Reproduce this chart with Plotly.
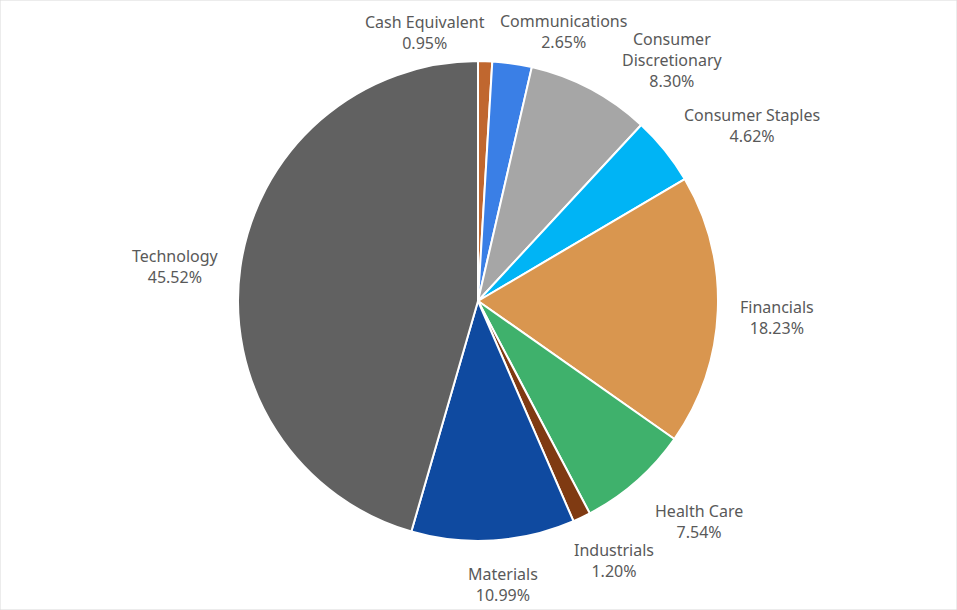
import plotly.graph_objects as go

categories = ["Cash Equivalent", "Communications", "Consumer Discretionary", "Consumer Staples",
              "Financials", "Health Care", "Industrials", "Materials", "Technology"]
values = [0.95, 2.65, 8.30, 4.62, 18.23, 7.54, 1.20, 10.99, 45.52]
colors = ["#C0672F", "#3A7FE6", "#A6A6A6", "#00B4F5", "#D9964F", "#3FB16C", "#7F3A12", "#0F4AA0", "#616161"]

# label display text (line breaks as in the reference) and label centre positions in pixels
label_text = ["Cash Equivalent", "Communications", "Consumer<br>Discretionary", "Consumer Staples",
              "Financials", "Health Care", "Industrials", "Materials", "Technology"]
label_pos = [(425, 32), (563, 31), (672, 60), (752, 126), (777, 317),
             (699, 521), (614, 560), (503, 584), (175, 266)]

W, H = 957, 610
cx, cy, r = 478, 301, 240

fig = go.Figure(go.Pie(
    labels=categories,
    values=values,
    sort=False,
    direction="clockwise",
    rotation=0,
    marker=dict(colors=colors, line=dict(color="white", width=2)),
    textinfo="none",
    showlegend=False,
    hoverinfo="label+value",
    domain=dict(x=[(cx - r) / W, (cx + r) / W], y=[(H - cy - r) / H, (H - cy + r) / H]),
))

annotations = []
for txt, v, (px, py) in zip(label_text, values, label_pos):
    annotations.append(dict(
        text=f"{txt}<br>{v:.2f}%",
        x=px / W, y=1 - py / H, xref="paper", yref="paper",
        xanchor="center", yanchor="middle", showarrow=False, align="center",
        font=dict(family="Noto Sans", size=16, color="#595959"),
    ))

fig.update_layout(
    width=W, height=H,
    margin=dict(l=0, r=0, t=0, b=0),
    paper_bgcolor="white",
    plot_bgcolor="white",
    annotations=annotations,
    shapes=[dict(type="rect", xref="paper", yref="paper", x0=0, y0=0, x1=1, y1=1,
                 line=dict(color="#D9D9D9", width=1))],
)

fig.write_html("out.html")
